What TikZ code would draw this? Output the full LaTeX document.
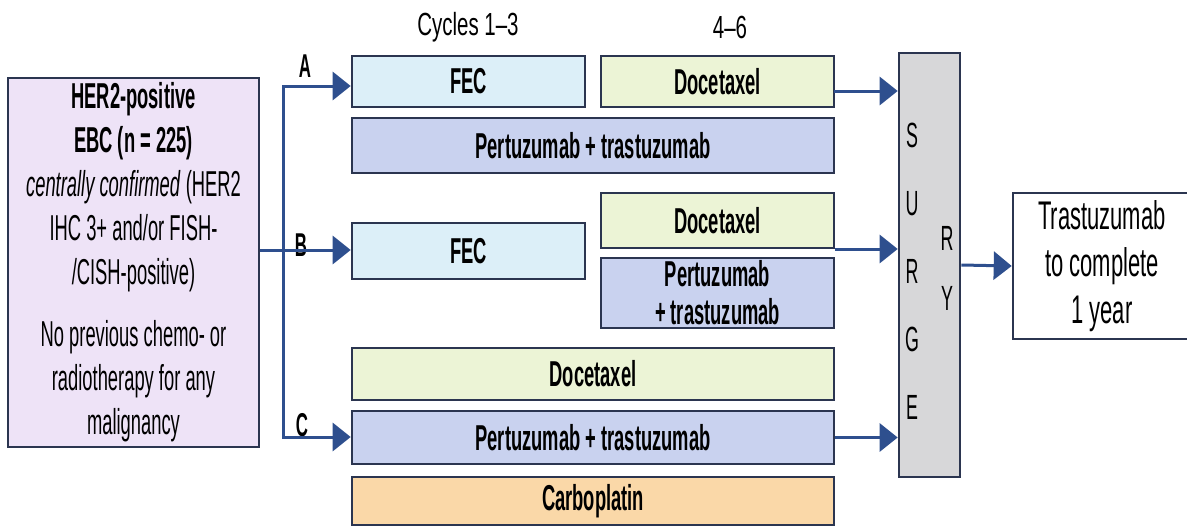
\documentclass[tikz,border=0pt]{standalone}
\usepackage{fontspec}
\setmainfont{Liberation Sans}[FakeStretch=0.51]
\newfontfamily\headfont{Liberation Sans}[FakeStretch=0.64]
\newfontfamily\trastfont{Liberation Sans}[FakeStretch=0.55]
\usetikzlibrary{arrows.meta}
\definecolor{bordc}{HTML}{2B3550}
\definecolor{arrc}{HTML}{2E4F8E}
\definecolor{fecc}{HTML}{DCEFF8}
\definecolor{docc}{HTML}{ECF4D6}
\definecolor{pertc}{HTML}{C9D2EF}
\definecolor{carbc}{HTML}{FAD8A8}
\definecolor{leftc}{HTML}{EEE3F7}
\definecolor{surgc}{HTML}{D7D7D9}
\newcommand{\bxf}{\fontsize{36}{40}\selectfont\bfseries}
\begin{document}
\begin{tikzpicture}[x=1pt,y=-1pt,
  box/.style={draw=bordc, line width=2.6pt, inner sep=0pt, font=\bxf, align=center},
  conn/.style={draw=arrc, line width=3pt},
  arr/.style={conn, -{Triangle[length=18pt,width=28pt]}},
  lab/.style={inner sep=0pt, font=\fontsize{33}{36}\selectfont\bfseries},
  head/.style={inner sep=0pt, font=\headfont\fontsize{32}{36}\selectfont},
  letters/.style={inner sep=0pt, align=center}]
\useasboundingbox (0,0) rectangle (1187,528);
% left box
\node[box, fill=leftc, minimum width=251pt, minimum height=369pt,
      font=\fontsize{36}{44}\selectfont] (left) at (133.5,262.5)
  {\textbf{HER2-positive}\\\textbf{EBC (n = 225)}\\\textit{centrally confirmed} (HER2\\IHC 3+ and/or FISH-\\/CISH-positive)\\[18pt]No previous chemo- or\\radiotherapy for any\\malignancy};
% headings
\node[head] (cyc) at (468,27) {Cycles 1–3};
\node[head] (c46) at (730,27) {4–6};
% arm A
\node[box, fill=fecc, minimum width=233pt, minimum height=51pt] (fecA) at (468.5,81.5) {FEC};
\node[box, fill=docc, minimum width=233pt, minimum height=51pt] (docA) at (717.5,81.5) {Docetaxel};
\node[box, fill=pertc, minimum width=482pt, minimum height=55pt] (pertA) at (593,145.5) {Pertuzumab + trastuzumab};
% arm B
\node[box, fill=fecc, minimum width=233pt, minimum height=56pt] (fecB) at (468.5,251) {FEC};
\node[box, fill=docc, minimum width=233pt, minimum height=55pt] (docB) at (717.5,220.5) {Docetaxel};
\node[box, fill=pertc, minimum width=233pt, minimum height=70pt, font=\fontsize{36}{38}\selectfont\bfseries] (pertB) at (717.5,293) {Pertuzumab\\+ trastuzumab};
% arm C
\node[box, fill=docc, minimum width=482pt, minimum height=52pt] (docC) at (593,374) {Docetaxel};
\node[box, fill=pertc, minimum width=482pt, minimum height=53pt] (pertC) at (593,437.5) {Pertuzumab + trastuzumab};
\node[box, fill=carbc, minimum width=482pt, minimum height=48pt] (carbo) at (593,501) {Carboplatin};
% surgery
\node[box, fill=surgc, minimum width=61pt, minimum height=424pt] (surg) at (929.5,265) {};
\node[letters, font=\fontsize{35}{68}\selectfont] (sl) at (912,271) {S\\U\\R\\G\\E};
\node[letters, font=\fontsize{35}{60}\selectfont] (sr) at (947,268) {R\\Y};
% trastuzumab
\node[box, fill=white, minimum width=178pt, minimum height=146pt,
      font=\trastfont\fontsize{40}{47}\selectfont] (trast) at (1102,266)
  {Trastuzumab\\to complete\\1 year};
% labels
\node[lab] (la) at (305,66) {A};
\node[lab] (lb) at (301,245) {B};
\node[lab] (lc) at (302,425) {C};
% connectors
\coordinate (j) at (283,250);
\coordinate (ja) at (283,86);
\coordinate (jc) at (283,437);
\draw[conn] (left.east |- j) -- (j);
\draw[conn, line cap=rect] (ja) -- (jc);
\draw[arr] (ja) -- (ja -| fecA.west);
\draw[arr] (j) -- (j -| fecB.west);
\draw[arr] (jc) -- (jc -| pertC.west);
\coordinate (ra) at (834,91);
\coordinate (rb) at (835,249);
\draw[arr] (ra) -- (ra -| surg.west);
\draw[arr] (rb) -- (rb -| surg.west);
\draw[arr] (pertC.east) -- (pertC.east -| surg.west);
\draw[arr] (surg.east) -- (trast.west);
\end{tikzpicture}
\end{document}
